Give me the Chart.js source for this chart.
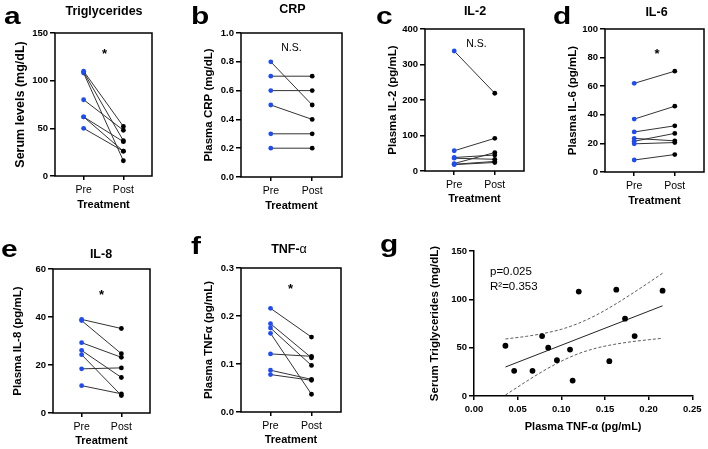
<!DOCTYPE html>
<html>
<head>
<meta charset="utf-8">
<script src="https://cdn.jsdelivr.net/npm/chart.js@4.4.0/dist/chart.umd.min.js"></script>
<style>
body { margin: 0; background: #fff; width: 708px; height: 449px; position: relative; overflow: hidden;
       font-family: "Liberation Sans", Arial, Helvetica, sans-serif; }
canvas { position: absolute; }
.t { position: absolute; white-space: nowrap; line-height: 1; color: #000; }
</style>
</head>
<body>
<script>
// categories
const treatment = ['Pre', 'Post'];

// a - triglycerides (mg/dL)
const tgPre  = [110, 109, 108, 80, 62, 62, 50];
const tgPost = [52, 37, 16, 48, 36, 26, 26];

// b - CRP (mg/dL)
const crpPre  = [0.8, 0.7, 0.6, 0.5, 0.3, 0.2];
const crpPost = [0.5, 0.7, 0.6, 0.4, 0.3, 0.2];

// c - IL-2 (pg/mL)
const il2Pre  = [338, 57, 38, 36, 21, 19, 18];
const il2Post = [219, 92, 45, 33, 52, 27, 24];

// d - IL-6 (pg/mL)
const il6Pre  = [62, 37, 28, 23.5, 21.5, 19.7, 8.4];
const il6Post = [70.5, 46, 32.3, 21.8, 27, 20.6, 12.2];

// e - IL-8 (pg/mL)
const il8Pre  = [39, 38.5, 29.3, 26.1, 24.3, 18.4, 11.4];
const il8Post = [35.2, 24.7, 23.2, 14.8, 7.3, 18.8, 8.0];

// f - TNF-alpha (pg/mL)
const tnfPre  = [0.216, 0.184, 0.175, 0.164, 0.121, 0.087, 0.078];
const tnfPost = [0.156, 0.113, 0.097, 0.037, 0.116, 0.068, 0.066];

// g - TNF-alpha vs triglycerides
const corrTnf = [0.036, 0.046, 0.067, 0.078, 0.085, 0.095, 0.110, 0.113, 0.120, 0.155, 0.163, 0.173, 0.184, 0.216];
const corrTg  = [52, 26, 26, 62, 50, 37, 48, 16, 108, 36, 110, 80, 62, 109];
const fitX    = [0.036, 0.216];
const fitY    = [30, 93.3];
const bandX   = [0.036, 0.06, 0.08, 0.10, 0.12, 0.14, 0.16, 0.18, 0.20, 0.216];
const bandHi  = [59, 61.7, 64.8, 69, 75.3, 83.7, 93.9, 105.3, 117.2, 127];
const bandLo  = [1, 15.1, 26.2, 36, 43.9, 49.5, 53.3, 56.1, 58.2, 59.7];

const FONT = '"Liberation Sans", Arial, Helvetica, sans-serif';
const BLUE = '#1f4cf2';

// box around plot area
const frame = {
  id: 'frame',
  afterDatasetsDraw(chart, args, opts) {
    if (!opts.on) return;
    const a = chart.chartArea, c = chart.ctx;
    c.save();
    c.strokeStyle = '#000';
    c.lineWidth = 1.5;
    c.strokeRect(a.left, a.top, a.right - a.left, a.bottom - a.top);
    c.restore();
  }
};

function addCanvas(l, t, w, h) {
  const cv = document.createElement('canvas');
  cv.width = w; cv.height = h;
  cv.style.left = l + 'px'; cv.style.top = t + 'px';
  document.body.appendChild(cv);
  return cv;
}

function addText(html, x, base, size, bold, align, extra) {
  const d = document.createElement('div');
  d.className = 't';
  d.innerHTML = html;
  d.style.fontSize = size + 'px';
  d.style.fontWeight = bold ? 'bold' : 'normal';
  d.style.top = (base - 0.85 * size) + 'px';
  d.style.left = x + 'px';
  if (align === 'center') d.style.transform = 'translateX(-50%)';
  if (extra) Object.assign(d.style, extra);
  document.body.appendChild(d);
}

function tickGrid(len) {
  return { display: true, drawOnChartArea: false, drawTicks: true, tickLength: len, color: '#000', lineWidth: 1.5 };
}

// p = [boxLeft, boxTop, boxRight, boxBottom, yTitleX, xTitleY]
function paired(p, pre, post, yMax, yStep, dec, yTitle, yTitleSize) {
  const [L, T, R, B, ytx, xty] = p;
  const offY = yTitleSize * 1.2 / 2, offX = 11 * 1.2 / 2;
  const cl = Math.round(ytx - offY), ct = T - 8;
  const padR = Math.min(6, 708 - R);
  const cb = Math.round(xty + offX);
  const ws = L - cl, hs = cb - B;
  const cv = addCanvas(cl, ct, R + padR - cl, cb - ct);

  const datasets = pre.map((v, i) => ({
    data: [{ x: 0, y: v }, { x: 1, y: post[i] }],
    showLine: true,
    borderColor: '#333',
    borderWidth: 1,
    pointRadius: 2.4,
    pointBorderWidth: 0,
    pointBackgroundColor: [BLUE, '#000']
  }));

  new Chart(cv, {
    type: 'scatter',
    data: { datasets },
    plugins: [frame],
    options: {
      responsive: false, animation: false, events: [],
      layout: { padding: { left: 0, top: 8, right: padR, bottom: 0 } },
      plugins: { legend: { display: false }, tooltip: { enabled: false }, frame: { on: true } },
      scales: {
        x: {
          type: 'linear', min: -0.72, max: 1.72,
          afterBuildTicks: s => { s.ticks = [{ value: 0 }, { value: 1 }]; },
          afterFit: s => { s.height = hs; },
          ticks: { callback: v => treatment[v], font: { family: FONT, size: 10.5 }, color: '#000',
                   padding: 3.5, maxRotation: 0, autoSkip: false },
          grid: tickGrid(4),
          border: { display: false },
          title: { display: true, text: 'Treatment', color: '#000', padding: 0,
                   font: { family: FONT, size: 11, weight: 'bold', lineHeight: 1.2 } }
        },
        y: {
          min: 0, max: yMax,
          afterFit: s => { s.width = ws; },
          ticks: { stepSize: yStep, callback: v => v.toFixed(dec), color: '#000', padding: 2,
                   font: { family: FONT, size: 9.5, weight: 'bold' } },
          grid: tickGrid(5),
          border: { display: false },
          title: { display: true, text: yTitle, color: '#000', padding: 0,
                   font: { family: FONT, size: yTitleSize, weight: 'bold', lineHeight: 1.2 } }
        }
      }
    }
  });
}

paired([55, 33, 152, 176, 20, 205], tgPre, tgPost, 150, 50, 0, 'Serum levels (mg/dL)', 12.5);
paired([241, 33, 342, 177, 209, 206.5], crpPre, crpPost, 1.0, 0.2, 1, 'Plasma CRP (mg/dL)', 11.5);
paired([425, 29, 524, 171, 393, 199.5], il2Pre, il2Post, 400, 100, 0, 'Plasma IL-2 (pg/mL)', 11.5);
paired([605, 29, 705, 172, 573, 201], il6Pre, il6Post, 100, 20, 0, 'Plasma IL-6 (pg/mL)', 11.5);
paired([53, 269, 150, 413, 18, 441.5], il8Pre, il8Post, 60, 20, 0, 'Plasma IL-8 (pg/mL)', 11.5);
paired([241, 268, 341, 412, 209, 440], tnfPre, tnfPost, 0.3, 0.1, 1, 'Plasma TNF\u03b1 (pg/mL)', 11.5);

// panel g: correlation
(function () {
  const L = 474, T = 251, R = 693, B = 396, ytx = 435, xty = 427;
  const cl = Math.round(ytx - 6.9), ct = T - 8, padR = 12;
  const cb = Math.round(xty + 6.6);
  const ws = L - cl, hs = cb - B;
  const cv = addCanvas(cl, ct, R + padR - cl, cb - ct);
  const pts = corrTnf.map((x, i) => ({ x, y: corrTg[i] }));
  const line = (xs, ys) => xs.map((x, i) => ({ x, y: ys[i] }));
  new Chart(cv, {
    type: 'scatter',
    data: {
      datasets: [
        { data: pts, pointRadius: 2.9, pointBorderWidth: 0, pointBackgroundColor: '#000' },
        { data: line(fitX, fitY), showLine: true, borderColor: '#222', borderWidth: 1, pointRadius: 0 },
        { data: line(bandX, bandHi), showLine: true, borderColor: '#333', borderWidth: 0.8,
          borderDash: [3, 2], pointRadius: 0, cubicInterpolationMode: 'monotone' },
        { data: line(bandX, bandLo), showLine: true, borderColor: '#333', borderWidth: 0.8,
          borderDash: [3, 2], pointRadius: 0, cubicInterpolationMode: 'monotone' }
      ]
    },
    options: {
      responsive: false, animation: false, events: [],
      layout: { padding: { left: 0, top: 8, right: padR, bottom: 0 } },
      plugins: { legend: { display: false }, tooltip: { enabled: false } },
      scales: {
        x: {
          type: 'linear', min: 0, max: 0.25,
          afterFit: s => { s.height = hs; },
          ticks: { stepSize: 0.05, callback: v => v.toFixed(2), color: '#000', padding: 3.5, maxRotation: 0,
                   font: { family: FONT, size: 9.5, weight: 'bold' } },
          grid: tickGrid(4),
          border: { display: true, color: '#000', width: 1.5 },
          title: { display: true, text: 'Plasma TNF-\u03b1 (pg/mL)', color: '#000', padding: 0,
                   font: { family: FONT, size: 11, weight: 'bold', lineHeight: 1.2 } }
        },
        y: {
          min: 0, max: 150,
          afterFit: s => { s.width = ws; },
          ticks: { stepSize: 50, color: '#000', padding: 2, font: { family: FONT, size: 9.5, weight: 'bold' } },
          grid: tickGrid(5),
          border: { display: true, color: '#000', width: 1.5 },
          title: { display: true, text: 'Serum Triglycerides (mg/dL)', color: '#000', padding: 0,
                   font: { family: FONT, size: 11.5, weight: 'bold', lineHeight: 1.2 } }
        }
      }
    }
  });
})();

// panel letters
const wide = { transformOrigin: 'left bottom', transform: 'scaleX(1.3)' };
addText('a', 4, 25, 23, true, 'left', wide);
addText('b', 191, 25, 23, true, 'left', wide);
addText('c', 376, 25, 23, true, 'left', wide);
addText('d', 553, 25, 23, true, 'left', wide);
addText('e', 1, 258, 23, true, 'left', wide);
addText('f', 191, 255, 23, true, 'left', wide);
addText('g', 380, 253, 23, true, 'left', wide);

// panel titles
addText('Triglycerides', 104, 15.5, 12.5, true, 'center');
addText('CRP', 292.5, 14, 12.5, true, 'center');
addText('IL-2', 475, 16, 12.5, true, 'center');
addText('IL-6', 656.5, 16.5, 12.5, true, 'center');
addText('IL-8', 101, 259, 12.5, true, 'center');
addText('TNF-<span style="font-weight:normal">\u03b1</span>', 289, 253.5, 12.5, true, 'center');

// significance marks
addText('*', 104.5, 58, 13, true, 'center');
addText('N.S.', 291.5, 50.5, 10.5, false, 'center');
addText('N.S.', 476.5, 47, 10.5, false, 'center');
addText('*', 657, 58.5, 13, true, 'center');
addText('*', 101.5, 299.5, 13, true, 'center');
addText('*', 290.5, 293, 13, true, 'center');

// stats for g
addText('p=0.025', 490, 275.7, 11.5, false, 'left');
addText('R\u00b2=0.353', 490, 290.7, 11.5, false, 'left');
</script>
</body>
</html>
